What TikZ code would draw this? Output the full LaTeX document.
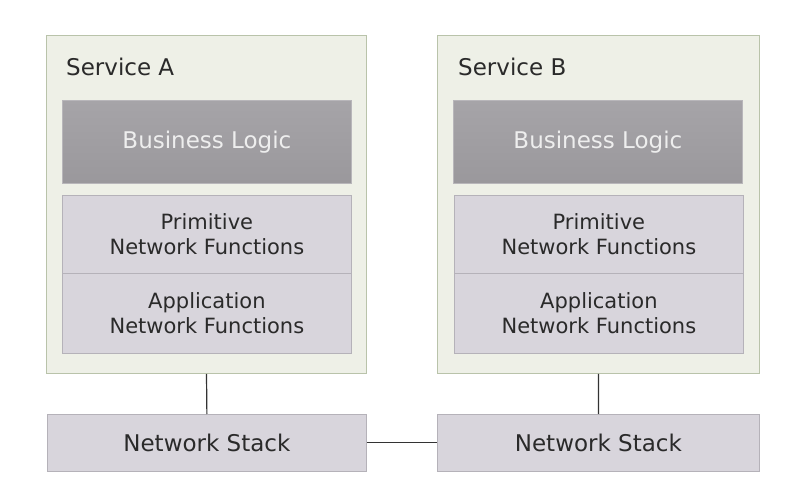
\documentclass[tikz,border=0pt]{standalone}
\usepackage{fontspec}
\setmainfont{DejaVu Sans}
\begin{document}
\begin{tikzpicture}[x=1pt,y=-1pt,
  svc/.style={draw=svcborder,fill=svcfill,line width=1pt,rectangle,inner sep=0pt,anchor=north west},
  biz/.style={draw=bizborder,top color=biztop,bottom color=bizbot,line width=0.8pt,rectangle,inner sep=0pt,anchor=north west,
    minimum width=289pt,minimum height=83pt,text=biztext,font=\fontsize{23}{27}\selectfont},
  fun/.style={draw=funborder,fill=funfill,line width=0.8pt,rectangle,inner sep=0pt,anchor=north west,
    minimum width=289pt,align=center,font=\fontsize{21}{24.5}\selectfont,text=txt},
  stack/.style={draw=funborder,fill=funfill,line width=0.8pt,rectangle,inner sep=0pt,anchor=north west,
    minimum height=57pt,font=\fontsize{23}{27}\selectfont,text=txt},
  title/.style={anchor=base west,inner sep=0pt,font=\fontsize{23}{27}\selectfont,text=txt},
  conn/.style={draw=linecol,line width=1.2pt}]
\definecolor{svcborder}{HTML}{B9C3AA}
\definecolor{svcfill}{HTML}{EEF0E7}
\definecolor{bizborder}{HTML}{B8B6BA}
\definecolor{biztop}{HTML}{A6A4A8}
\definecolor{bizbot}{HTML}{9A989C}
\definecolor{biztext}{HTML}{EEEEEE}
\definecolor{funborder}{HTML}{B5B2B9}
\definecolor{funfill}{HTML}{D8D5DC}
\definecolor{txt}{HTML}{2A2A2A}
\definecolor{linecol}{HTML}{333333}
\fill[white] (0,0) rectangle (812,486);
\useasboundingbox (0,0) rectangle (812,486);

% Service A
\node[svc,minimum width=320pt,minimum height=338pt] (svcA) at (46,35) {};
\node[title] (tA) at (66,76) {Service A};
\node[biz] (bizA) at (62,100) {Business Logic};
\node[fun,minimum height=78pt] (primA) at (62,195) {Primitive\\Network Functions};
\node[fun,minimum height=80pt] (appA) at (62,273) {Application\\Network Functions};

% Service B
\node[svc,minimum width=322pt,minimum height=338pt] (svcB) at (437,35) {};
\node[title] (tB) at (458,76) {Service B};
\node[biz] (bizB) at (453,100) {Business Logic};
\node[fun,minimum height=78pt] (primB) at (454,195) {Primitive\\Network Functions};
\node[fun,minimum height=80pt] (appB) at (454,273) {Application\\Network Functions};

% Network stacks
\node[stack,minimum width=319pt] (nsA) at (47,414) {Network Stack};
\node[stack,minimum width=322pt] (nsB) at (437,414) {Network Stack};

% Connectors
\draw[conn] (svcA.south) -- (nsA.north);
\draw[conn] (svcB.south) -- (nsB.north);
\draw[conn] (nsA.east) -- (nsB.west);
\end{tikzpicture}
\end{document}
